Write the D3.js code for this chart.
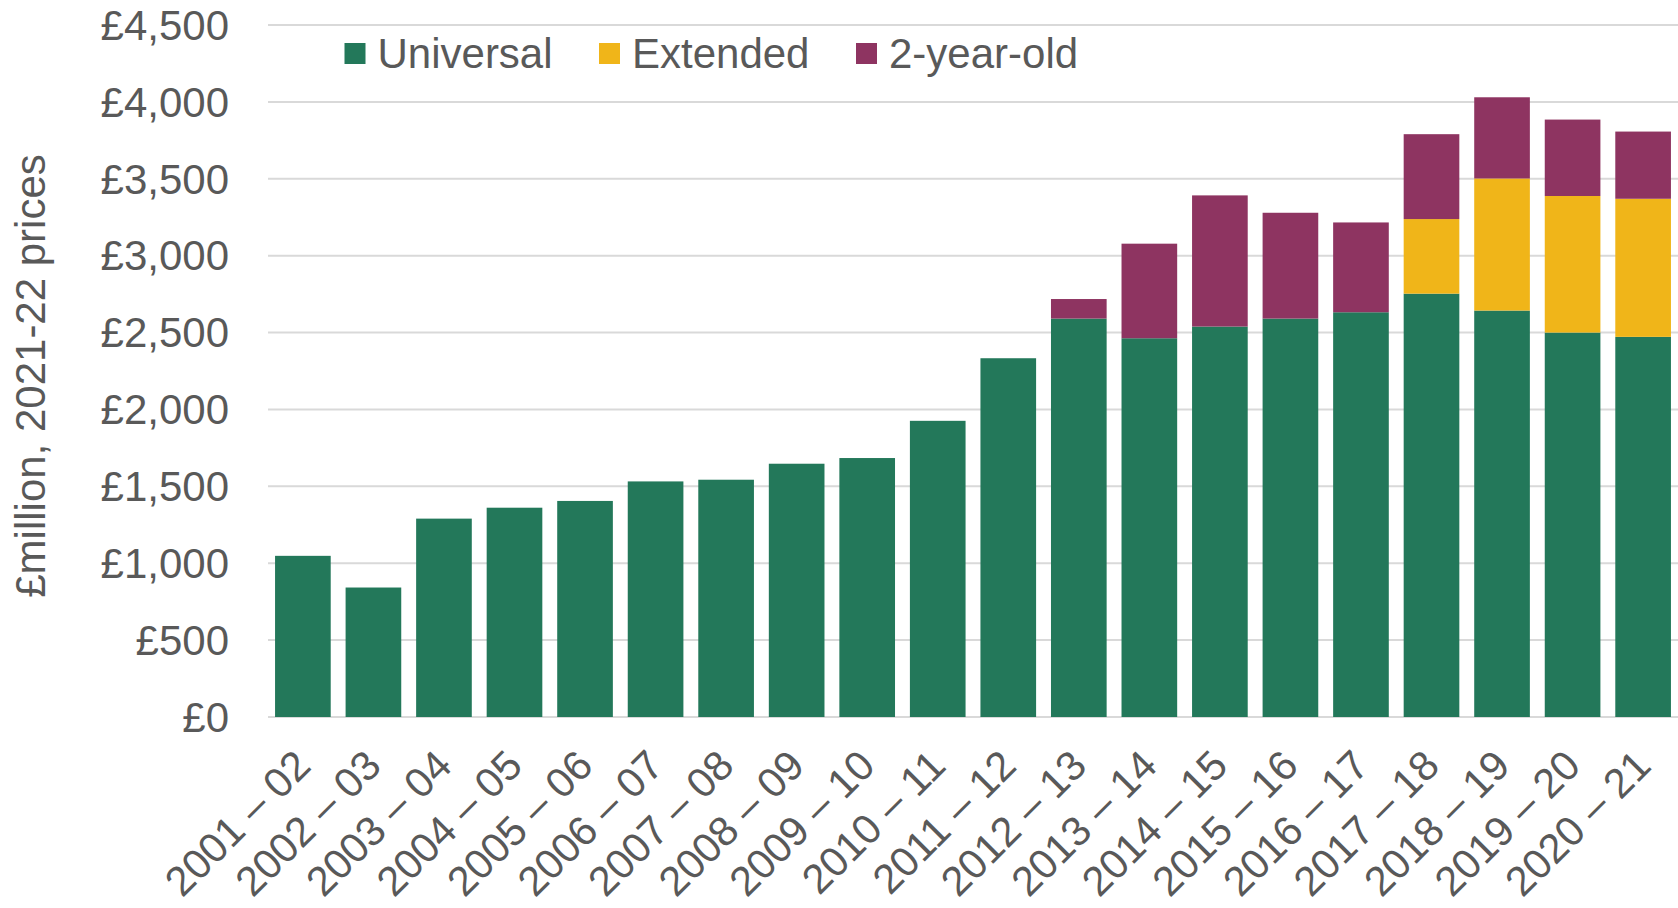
<!DOCTYPE html>
<html>
<head>
<meta charset="utf-8">
<script src="https://cdn.jsdelivr.net/npm/d3@7"></script>
<style>
  html, body { margin: 0; padding: 0; background: #fff; }
  svg { display: block; font-family: "Liberation Sans", Arial, sans-serif; }
</style>
</head>
<body>
<svg id="chart" width="1678" height="908"></svg>
<script>
const categories = ["2001 – 02","2002 – 03","2003 – 04","2004 – 05","2005 – 06","2006 – 07","2007 – 08","2008 – 09","2009 – 10","2010 – 11","2011 – 12","2012 – 13","2013 – 14","2014 – 15","2015 – 16","2016 – 17","2017 – 18","2018 – 19","2019 – 20","2020 – 21"];
const universal = [1048, 842, 1290, 1361, 1405, 1532, 1543, 1647, 1684, 1926, 2333, 2591, 2463, 2539, 2591, 2632, 2753, 2643, 2500, 2472];
const extended  = [0, 0, 0, 0, 0, 0, 0, 0, 0, 0, 0, 0, 0, 0, 0, 0, 485, 859, 888, 898];
const twoYearOld = [0, 0, 0, 0, 0, 0, 0, 0, 0, 0, 0, 127, 615, 853, 688, 584, 552, 528, 497, 437];
const seriesNames = ["Universal", "Extended", "2-year-old"];
const seriesColors = ["#23785a", "#f0b519", "#8e3461"];
const yTicks = [0, 500, 1000, 1500, 2000, 2500, 3000, 3500, 4000, 4500];
const yTitle = "£million, 2021-22 prices";

(function () {
const svg = d3.select("#chart");
const textColor = "#595959";
const plotLeft = 268, plotRight = 1678, plotTop = 25, plotBottom = 717;

const table = categories.map((c, i) => ({cat: c, "Universal": universal[i], "Extended": extended[i], "2-year-old": twoYearOld[i]}));
const stacked = d3.stack().keys(seriesNames)(table);

const x = d3.scaleBand().domain(categories).range([plotLeft, plotRight]).paddingInner(0.211).paddingOuter(0.1);
const y = d3.scaleLinear().domain([0, 4500]).range([plotBottom, plotTop]);
const color = d3.scaleOrdinal().domain(seriesNames).range(seriesColors);

// gridlines
svg.append("g").selectAll("line").data(yTicks).join("line")
  .attr("x1", plotLeft).attr("x2", plotRight)
  .attr("y1", d => y(d)).attr("y2", d => y(d))
  .attr("stroke", "#d9d9d9").attr("stroke-width", 2);

// y tick labels
const yAxis = d3.axisLeft(y).tickValues(yTicks).tickSize(0).tickPadding(0)
  .tickFormat(d => "£" + d3.format(",")(d));
const yg = svg.append("g").attr("transform", "translate(229,0)").call(yAxis);
yg.select(".domain").remove();
yg.selectAll("text").attr("font-size", 42).attr("fill", textColor)
  .attr("font-family", "Liberation Sans, Arial, sans-serif").attr("dy", "0.34em");

// bars
svg.append("g").selectAll("g").data(stacked).join("g")
  .attr("fill", d => color(d.key))
  .selectAll("rect").data(d => d.filter(s => s[1] - s[0] > 0)).join("rect")
  .attr("x", d => x(d.data.cat))
  .attr("width", x.bandwidth())
  .attr("y", d => y(d[1]))
  .attr("height", d => y(d[0]) - y(d[1]));

// x labels
const xAxis = d3.axisBottom(x).tickSize(0).tickPadding(0);
const xg = svg.append("g").call(xAxis);
xg.select(".domain").remove();
xg.selectAll(".tick").attr("transform", d => `translate(${x(d) + x.bandwidth() / 2 + 10},768)`);
xg.selectAll("text")
  .attr("x", 0).attr("y", 0).attr("dy", 0)
  .attr("text-anchor", "end")
  .attr("transform", "rotate(-45)")
  .attr("font-size", 41.5).attr("fill", textColor)
  .attr("font-family", "Liberation Sans, Arial, sans-serif");

// y title
svg.append("text")
  .attr("transform", "translate(45,376) rotate(-90)")
  .attr("text-anchor", "middle")
  .attr("font-size", 42).attr("fill", textColor)
  .text(yTitle);

// legend
const legendX = [344.5, 599, 856];
const lg = svg.append("g").selectAll("g").data(seriesNames).join("g")
  .attr("transform", (d, i) => `translate(${legendX[i]},0)`);
lg.append("rect").attr("x", 0).attr("y", 43).attr("width", 21).attr("height", 21)
  .attr("fill", d => color(d));
lg.append("text").attr("x", 33).attr("y", 68)
  .attr("font-size", 42).attr("fill", textColor).text(d => d);
})();
</script>
</body>
</html>
